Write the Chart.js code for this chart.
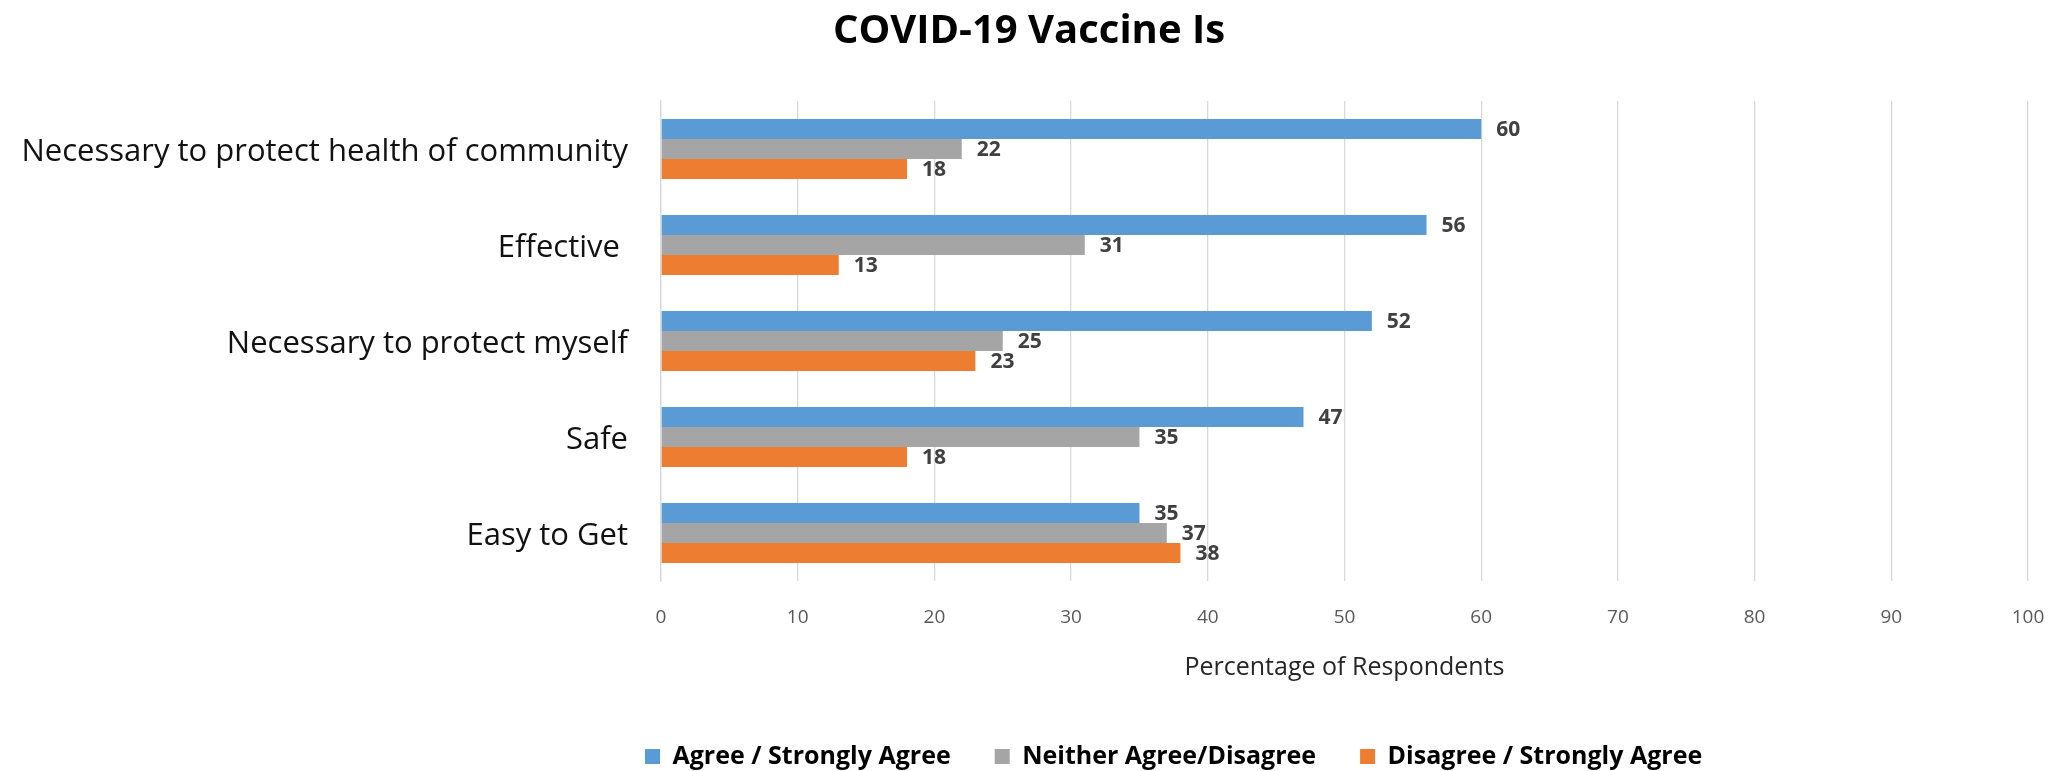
<!DOCTYPE html>
<html>
<head>
<meta charset="utf-8">
<script src="https://cdn.jsdelivr.net/npm/chart.js@4"></script>
<style>
  html, body { margin: 0; padding: 0; background: #ffffff; }
  #wrap { width: 2064px; height: 771px; position: relative; }
</style>
</head>
<body>
<div id="wrap"><canvas id="chart" width="2064" height="771"></canvas></div>
<script>
// Survey statements (one row per statement)
const categories = [
  'Necessary to protect health of community',
  'Effective ',
  'Necessary to protect myself',
  'Safe',
  'Easy to Get'
];

// Share of respondents per answer, in percent
const agreeValues    = [60, 56, 52, 47, 35];
const neitherValues  = [22, 31, 25, 35, 37];
const disagreeValues = [18, 13, 23, 18, 38];

const seriesNames = ['Agree / Strongly Agree', 'Neither Agree/Disagree', 'Disagree / Strongly Agree'];
const seriesColors = ['#5B9BD5', '#A5A5A5', '#ED7D31'];

const FONT = '"Open Sans", Lato, sans-serif';

// Writes each bar's value just past the end of the bar
const valueLabels = {
  id: 'valueLabels',
  afterDatasetsDraw(chart) {
    const ctx = chart.ctx;
    ctx.save();
    ctx.font = 'bold 21px ' + FONT;
    ctx.fillStyle = '#404040';
    ctx.textAlign = 'left';
    ctx.textBaseline = 'middle';
    chart.data.datasets.forEach((ds, di) => {
      const meta = chart.getDatasetMeta(di);
      meta.data.forEach((bar, i) => {
        ctx.fillText(String(ds.data[i]), bar.x + 15, bar.y + 1);
      });
    });
    ctx.restore();
  }
};

// Title centred on the page; legend row starts under the plot's left edge
const blockPlacement = {
  id: 'blockPlacement',
  afterLayout(chart) {
    const tb = chart.titleBlock;
    if (tb) {
      const tdx = chart.width / 2 - 3 - (tb.left + tb.right) / 2;
      tb.left += tdx;
      tb.right += tdx;
    }
    const lg = chart.legend;
    if (!lg || !lg.lineWidths) return;
    const pad = lg.options.labels.padding;
    const rowStart = (lg.left + pad + lg.right - lg.lineWidths[0]) / 2;
    const dx = 645 - rowStart;
    const dy = 8;
    lg.left += dx;
    lg.right += dx;
    lg.top += dy;
    lg.bottom += dy;
  }
};

new Chart(document.getElementById('chart'), {
  type: 'bar',
  data: {
    labels: categories,
    datasets: [
      { label: seriesNames[0], data: agreeValues,    backgroundColor: seriesColors[0] },
      { label: seriesNames[1], data: neitherValues,  backgroundColor: seriesColors[1] },
      { label: seriesNames[2], data: disagreeValues, backgroundColor: seriesColors[2] }
    ]
  },
  options: {
    indexAxis: 'y',
    responsive: false,
    animation: false,
    devicePixelRatio: 1,
    layout: { padding: { left: 5, right: 36, top: 0, bottom: 0 } },
    datasets: {
      bar: { categoryPercentage: 0.625, barPercentage: 1.0, borderWidth: 0 }
    },
    scales: {
      x: {
        min: 0,
        max: 100,
        ticks: {
          stepSize: 10,
          padding: 25,
          color: '#595959',
          font: { family: FONT, size: 19 }
        },
        grid: { color: '#d9d9d9', lineWidth: 1.3, drawTicks: false },
        border: { display: false },
        title: {
          display: true,
          text: 'Percentage of Respondents',
          color: '#262626',
          font: { family: FONT, size: 25 },
          padding: { top: 0, bottom: 9 }
        },
        afterFit(scale) {
          scale.height = 111;
          // the end labels fit inside the outer padding already
          scale.paddingLeft = 0;
          scale.paddingRight = 0;
        }
      },
      y: {
        ticks: {
          padding: 33,
          labelOffset: 3,
          color: '#111111',
          font: { family: FONT, size: 31 }
        },
        grid: { display: false, drawTicks: false },
        border: { display: true, color: '#d9d9d9', width: 1.3 },
        afterFit(scale) { scale.width = 656; }
      }
    },
    plugins: {
      title: {
        display: true,
        text: 'COVID-19 Vaccine Is',
        color: '#000000',
        font: { family: FONT, size: 40, weight: 'bold' },
        padding: { top: 8, bottom: 45 }
      },
      legend: {
        position: 'bottom',
        labels: {
          boxWidth: 15,
          boxHeight: 15,
          padding: 44,
          color: '#000000',
          font: { family: FONT, size: 25, weight: 'bold' }
        }
      },
      tooltip: { enabled: false }
    }
  },
  plugins: [valueLabels, blockPlacement]
});
</script>
</body>
</html>
